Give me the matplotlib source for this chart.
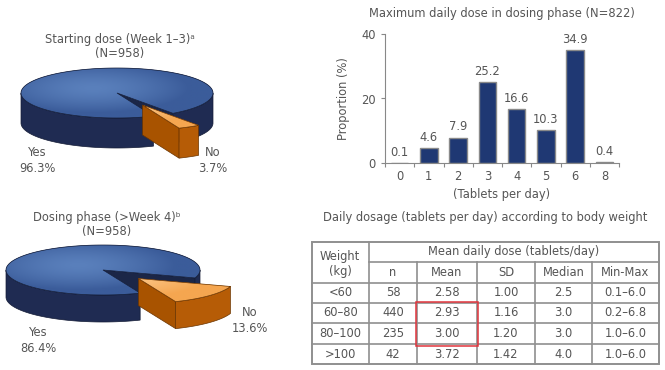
import numpy as np
import matplotlib
matplotlib.use("Agg")
import matplotlib.pyplot as plt
from matplotlib.patches import Polygon, Rectangle
from matplotlib.colors import to_rgb

# --- data ---
pie1_labels = ["Yes", "No"]
pie1_values = [96.3, 3.7]
pie2_labels = ["Yes", "No"]
pie2_values = [86.4, 13.6]

bar_cats = ["0", "1", "2", "3", "4", "5", "6", "8"]
bar_vals = [0.1, 4.6, 7.9, 25.2, 16.6, 10.3, 34.9, 0.4]

tbl_weight = ["<60", "60\u201380", "80\u2013100", ">100"]
tbl_n = ["58", "440", "235", "42"]
tbl_mean = ["2.58", "2.93", "3.00", "3.72"]
tbl_sd = ["1.00", "1.16", "1.20", "1.42"]
tbl_median = ["2.5", "3.0", "3.0", "4.0"]
tbl_range = ["0.1\u20136.0", "0.2\u20136.8", "1.0\u20136.0", "1.0\u20136.0"]
tbl_cols = ["n", "Mean", "SD", "Median", "Min-Max"]

TXT = "#555555"
FS = 8.3
plt.rcParams["font.family"] = ["DejaVu Sans"]

fig = plt.figure(figsize=(6.65, 3.70), dpi=100)
bg = fig.add_axes([0, 0, 1, 1])
bg.set_xlim(0, 665)
bg.set_ylim(370, 0)
bg.axis("off")

zc = [1.0]


def nz():
    zc[0] += 0.01
    return zc[0]


def rim(cx, cy, a, b, th, dz=0.0):
    return np.column_stack([cx + a * np.cos(th), cy - b * np.sin(th) + dz])


def grad_top(ax, patch, cx, cy, a, b, c_in, c_out, z):
    X, Y = np.meshgrid(np.linspace(cx - a, cx + a, 200), np.linspace(cy - b, cy + b, 60))
    r = np.clip(np.sqrt(((X - cx + 0.25 * a) / a) ** 2 + ((Y - cy + 0.2 * b) / b) ** 2), 0, 1)
    c0, c1 = np.array(to_rgb(c_in)), np.array(to_rgb(c_out))
    img = c0[None, None, :] * (1 - r[..., None] ** 1.5) + c1[None, None, :] * r[..., None] ** 1.5
    im = ax.imshow(img, extent=(cx - a, cx + a, cy + b, cy - b), origin="upper",
                   aspect="auto", interpolation="bilinear", zorder=z)
    im.set_clip_path(patch)


def draw_slice(ax, cx, cy, a, b, depth, t1, t2, top_in, top_out, side, face, edge):
    th = np.linspace(t1, t2, max(int((t2 - t1) / 0.01), 4))
    # radial cut faces
    for t, vis in ((t1, np.cos(t1) > 0), (t2, np.cos(t2) < 0)):
        if vis:
            p = rim(cx, cy, a, b, np.array([t]))[0]
            pts = [(cx, cy), tuple(p), (p[0], p[1] + depth), (cx, cy + depth)]
            ax.add_patch(Polygon(pts, closed=True, fc=face, ec=edge, lw=0.5, zorder=nz()))
    # outer wall (front half only)
    front = np.sin(th) < 0
    idx = np.where(front)[0]
    if len(idx):
        splits = np.split(idx, np.where(np.diff(idx) > 1)[0] + 1)
        for s in splits:
            tt = th[s]
            top = rim(cx, cy, a, b, tt)
            bot = rim(cx, cy, a, b, tt, depth)[::-1]
            ax.add_patch(Polygon(np.vstack([top, bot]), closed=True, fc=side, ec=edge,
                                 lw=0.5, zorder=nz()))
    # top face
    pts = np.vstack([[cx, cy], rim(cx, cy, a, b, th)])
    z = nz()
    patch = Polygon(pts, closed=True, fc=top_out, ec="none", zorder=z)
    ax.add_patch(patch)
    grad_top(ax, patch, cx, cy, a, b, top_in, top_out, z + 0.002)
    ax.add_patch(Polygon(pts, closed=True, fill=False, ec=edge, lw=0.5, zorder=z + 0.004))


def pie3d(ax, cx, cy, a, b, depth, values, mid_deg, explode):
    ang = np.array(values) / sum(values) * 2 * np.pi
    no_start = np.deg2rad(mid_deg) - ang[1] / 2
    no_end = no_start + ang[1]
    # main slice first (behind), then the exploded slice
    draw_slice(ax, cx, cy, a, b, depth, no_end, no_start + 2 * np.pi,
               "#5a80bc", "#3b5c9a", "#1f2b52", "#1b2647", "#141c36")
    mid = np.deg2rad(mid_deg)
    ox, oy = explode * a * np.cos(mid), -explode * b * np.sin(mid)
    draw_slice(ax, cx + ox, cy + oy, a, b, depth, no_start, no_end,
               "#fcc88a", "#f5a650", "#b65c06", "#a85300", "#6a3400")


# --- pie 1 ---
bg.text(120, 39, "Starting dose (Week 1\u20133)\u1d43", ha="center", va="center", fontsize=FS, color=TXT)
bg.text(120, 54, "(N=958)", ha="center", va="center", fontsize=FS, color=TXT)
pie3d(bg, 117, 93, 96, 25, 30, pie1_values, -61, 0.55)
bg.text(37, 161, f"{pie1_labels[0]}\n{pie1_values[0]}%", ha="center", va="center",
        fontsize=FS, color=TXT, linespacing=1.3)
bg.text(213, 161, f"{pie1_labels[1]}\n{pie1_values[1]}%", ha="center", va="center",
        fontsize=FS, color=TXT, linespacing=1.3)

# --- pie 2 ---
bg.text(107, 218, "Dosing phase (>Week 4)\u1d47", ha="center", va="center", fontsize=FS, color=TXT)
bg.text(107, 232, "(N=958)", ha="center", va="center", fontsize=FS, color=TXT)
pie3d(bg, 103, 270, 97, 25, 27, pie2_values, -43, 0.5)
bg.text(250, 320, f"{pie2_labels[1]}\n{pie2_values[1]}%", ha="center", va="center",
        fontsize=FS, color=TXT, linespacing=1.3)
bg.text(38, 340, f"{pie2_labels[0]}\n{pie2_values[0]}%", ha="center", va="center",
        fontsize=FS, color=TXT, linespacing=1.3)

# --- table ---
bg.text(485, 218, "Daily dosage (tablets per day) according to body weight", ha="center",
        va="center", fontsize=FS, color=TXT)
xs = [312, 369, 417, 477, 535, 592, 659]
ys = [242, 262, 283, 303, 323, 344, 364]
LC = "#8f8f8f"
bg.add_patch(Rectangle((xs[0], ys[0]), xs[-1] - xs[0], ys[-1] - ys[0], fill=False, ec=LC, lw=1.4, zorder=5))
bg.plot([xs[1], xs[-1]], [ys[1], ys[1]], color=LC, lw=1.2, zorder=5)
for y in ys[2:-1]:
    bg.plot([xs[0], xs[-1]], [y, y], color=LC, lw=1.2, zorder=5)
bg.plot([xs[1], xs[1]], [ys[0], ys[-1]], color=LC, lw=1.2, zorder=5)
for x in xs[2:-1]:
    bg.plot([x, x], [ys[1], ys[-1]], color=LC, lw=1.2, zorder=5)
bg.text(340, 264, "Weight\n(kg)", ha="center", va="center", fontsize=FS, color=TXT, linespacing=1.15)
bg.text((xs[1] + xs[-1]) / 2, 252, "Mean daily dose (tablets/day)", ha="center", va="center",
        fontsize=FS, color=TXT)
for j, c in enumerate(tbl_cols):
    bg.text((xs[j + 1] + xs[j + 2]) / 2, 273, c, ha="center", va="center", fontsize=FS, color=TXT)
rows = list(zip(tbl_weight, tbl_n, tbl_mean, tbl_sd, tbl_median, tbl_range))
for i, row in enumerate(rows):
    yc = (ys[i + 2] + ys[i + 3]) / 2
    for j, val in enumerate(row):
        bg.text((xs[j] + xs[j + 1]) / 2, yc, val, ha="center", va="center", fontsize=FS, color=TXT)
bg.add_patch(Rectangle((416, 302), 62, 44, fill=False, ec="#e0343c", lw=1.1, zorder=6))

# --- bar chart ---
ax = fig.add_axes([385 / 665, 1 - 163 / 370, 234 / 665, 129 / 370])
pos = np.arange(len(bar_cats))
ax.bar(pos, bar_vals, width=0.6, color="#1f3873", edgecolor="#8a8a8a", linewidth=1.0)
for p, v in zip(pos, bar_vals):
    ax.annotate(f"{v}", (p, v), xytext=(0, 3), textcoords="offset points", ha="center",
                va="bottom", fontsize=FS, color=TXT)
ax.set_xlim(-0.5, len(bar_cats) - 0.5)
ax.set_ylim(0, 40)
ax.set_yticks([0, 20, 40])
ax.set_xticks(np.arange(-0.5, len(bar_cats), 1))
ax.set_xticklabels([])
ax.set_xticks(pos, minor=True)
ax.set_xticklabels(bar_cats, minor=True)
ax.tick_params(axis="x", which="major", length=3, color="#888888")
ax.tick_params(axis="x", which="minor", length=0, pad=5, labelsize=FS, labelcolor=TXT)
ax.tick_params(axis="y", length=3, color="#888888", labelsize=FS, labelcolor=TXT)
for s in ("top", "right"):
    ax.spines[s].set_visible(False)
for s in ("left", "bottom"):
    ax.spines[s].set_color("#888888")
ax.set_ylabel("Proportion (%)", fontsize=FS, color=TXT, labelpad=8)
ax.set_xlabel("(Tablets per day)", fontsize=FS, color=TXT, labelpad=4)
ax.set_title("Maximum daily dose in dosing phase (N=822)", fontsize=FS, color=TXT, pad=12)

fig.savefig("out.png", dpi=100)
